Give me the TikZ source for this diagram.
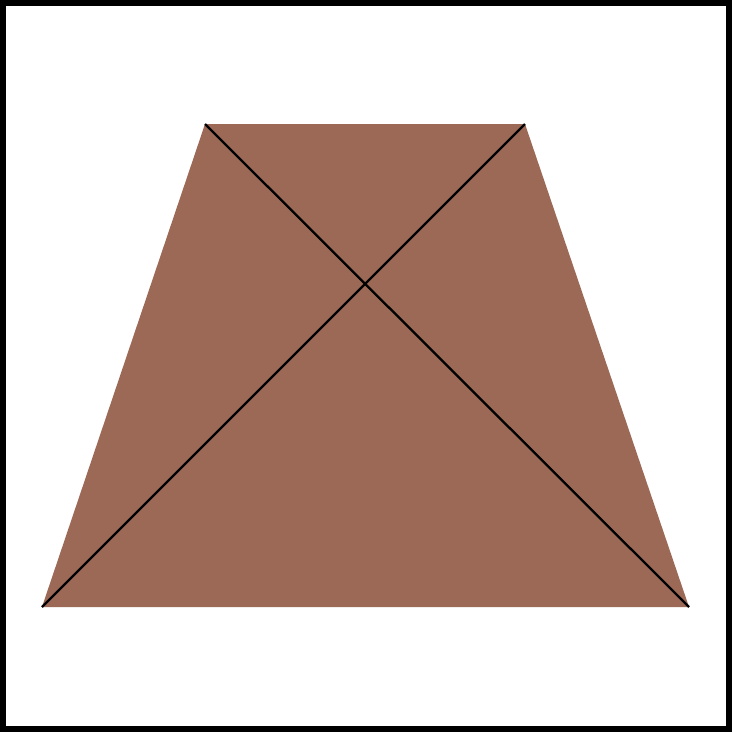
\documentclass[tikz,border=0pt]{standalone}
\definecolor{trapfill}{HTML}{9B6955}
\tikzset{frame/.style={draw=black,line width=6pt},
diag/.style={draw=black,line width=2.3pt}}
\begin{document}
\begin{tikzpicture}[x=1pt,y=-1pt]
\useasboundingbox (0,0) rectangle (732,732);
\fill[white] (0,0) rectangle (732,732);
\coordinate (tl) at (205,124);
\coordinate (tr) at (525,124);
\coordinate (br) at (689,607);
\coordinate (bl) at (42,607);
\fill[trapfill] (tl) -- (tr) -- (br) -- (bl) -- cycle;
\draw[diag] (tl) -- (br);
\draw[diag] (tr) -- (bl);
\draw[frame] (3,3) rectangle (729,729);
\end{tikzpicture}
\end{document}
